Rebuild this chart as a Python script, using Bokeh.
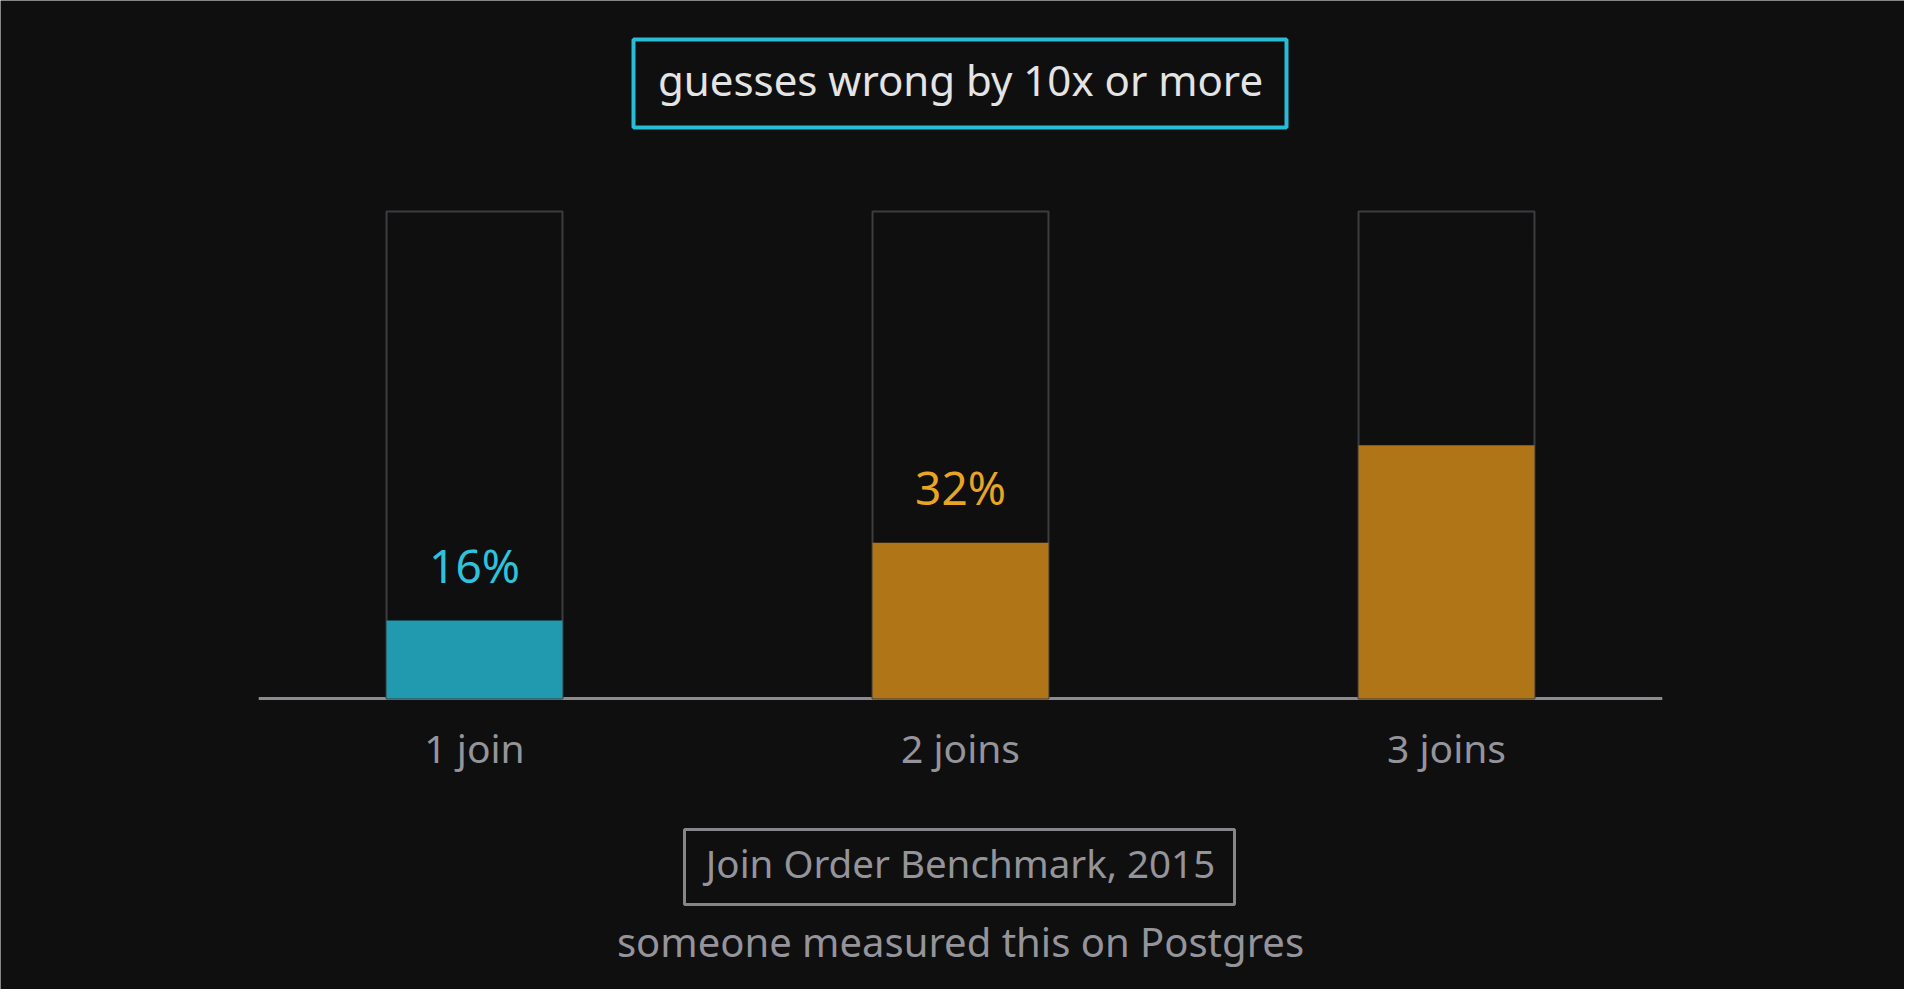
from bokeh.plotting import figure
from bokeh.models import Range1d, BoxAnnotation, ColumnDataSource
from bokeh.core.properties import value
from bokeh.embed import file_html
from bokeh.resources import INLINE

# ---- data ----
categories = ["1 join", "2 joins", "3 joins"]
percent_values = [16, 32, 52]
value_labels = ["16%", "32%", ""]
bar_colors = ["#2199ae", "#b07516"]
label_colors = ["#2ec3dc", "#e8a523"]
title_text = "guesses wrong by 10x or more"
source_text = "Join Order Benchmark, 2015"
note_text = "someone measured this on Postgres"

W, H = 1904, 989
BG = "#0f0f10"
FONT = "Noto Sans"

# layout mapping (canvas pixels)
X0_PX, X_UNIT = 474, 486.0
Y0_PX, Y_UNIT = 698, 4.87

def dx(px):
    return (px - X0_PX) / X_UNIT

def dy(py):
    return (Y0_PX - py) / Y_UNIT

p = figure(width=W, height=H, output_backend="svg", toolbar_location=None,
           x_range=Range1d(-X0_PX / X_UNIT, (W - X0_PX) / X_UNIT),
           y_range=Range1d(-(H - Y0_PX) / Y_UNIT, Y0_PX / Y_UNIT),
           x_axis_location=None, y_axis_location=None, min_border=0)
p.background_fill_color = BG
p.border_fill_color = BG
p.outline_line_color = None
p.grid.visible = False

xs = list(range(len(categories)))
colors = [bar_colors[0]] + [bar_colors[1]] * (len(categories) - 1)
lcolors = [label_colors[0]] + [label_colors[1]] * (len(categories) - 1)

src = ColumnDataSource(dict(
    x=xs, cat=categories, v=percent_values, full=[100] * len(xs),
    lab=value_labels, col=colors, lcol=lcolors,
    laby=[v + 11.5 for v in percent_values],
    caty=[dy(747)] * len(xs),
))

BW = 0.362
# baseline
p.segment(x0=[-0.444], y0=[0], x1=[len(xs) - 1 + 0.444], y1=[0],
          line_color="#8b8b92", line_width=3)
# 100% frames
p.vbar(x="x", top="full", bottom=0, width=BW, source=src,
       fill_color=None, line_color="#3c3d41", line_width=2)
# value bars
p.vbar(x="x", top="v", bottom=0, width=BW, source=src,
       fill_color="col", line_color=None)
# value labels
p.text(x="x", y="laby", text="lab", source=src, text_color="lcol",
       text_font=value(FONT), text_font_size=value("46px"),
       text_align="center", text_baseline="middle")
# category labels
p.text(x="x", y="caty", text="cat", source=src, text_color="#94949a",
       text_font=value(FONT), text_font_size=value("39px"),
       text_align="center", text_baseline="middle")

# title box
p.add_layout(BoxAnnotation(left=dx(633), right=dx(1286), top=dy(39), bottom=dy(127),
                           fill_color=None, fill_alpha=0, line_color="#29bcd6",
                           line_alpha=1, line_width=4))
p.text(x=[1], y=[dy(78.5)], text=[title_text], text_color="#e4e4e4",
       text_font=value(FONT), text_font_size=value("42px"),
       text_align="center", text_baseline="middle")

# source box
p.add_layout(BoxAnnotation(left=dx(684), right=dx(1234), top=dy(829), bottom=dy(904),
                           fill_color=None, fill_alpha=0, line_color="#85858a",
                           line_alpha=1, line_width=3))
p.text(x=[1], y=[dy(862.5)], text=[source_text], text_color="#94949a",
       text_font=value(FONT), text_font_size=value("38.5px"),
       text_align="center", text_baseline="middle")
p.text(x=[1], y=[dy(940.5)], text=[note_text], text_color="#94949a",
       text_font=value(FONT), text_font_size=value("40px"),
       text_align="center", text_baseline="middle")

open("out.html", "w").write(file_html(p, INLINE))
